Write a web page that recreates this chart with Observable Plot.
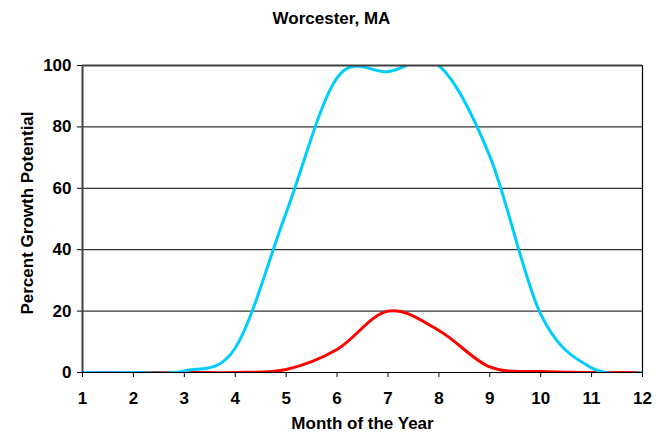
<!DOCTYPE html>
<html>
<head>
<meta charset="utf-8">
<script src="https://cdn.jsdelivr.net/npm/d3@7"></script>
<script src="https://cdn.jsdelivr.net/npm/@observablehq/plot@0.6"></script>
<style>
  html, body { margin: 0; padding: 0; background: #fff; }
  #title { width: 663px; height: 40px; line-height: 38px; text-align: center;
    font-family: "Liberation Sans", Arial, sans-serif; font-weight: bold; font-size: 17px; color: #000; }
  svg { display: block; }
</style>
</head>
<body>
<div id="title">Worcester, MA</div>
<div id="chart"></div>
<script>
const months = [1, 2, 3, 4, 5, 6, 7, 8, 9, 10, 11, 12];
const bluePotential = [0, 0, 0.5, 8, 52, 96, 98, 100, 70.5, 19, 1.5, 0];
const redPotential = [0, 0, 0, 0, 1, 7.5, 20, 13.7, 1.8, 0.3, 0, 0];
const yTicks = [0, 20, 40, 60, 80, 100];
const xLabel = "Month of the Year";
const yLabel = "Percent Growth Potential";

const blueData = months.map((m, i) => ({month: m, value: bluePotential[i]}));
const redData = months.map((m, i) => ({month: m, value: redPotential[i]}));

const font = "Liberation Sans, Arial, sans-serif";

const chart = Plot.plot({
  width: 663,
  height: 395,
  marginLeft: 82,
  marginRight: 21,
  marginTop: 25,
  marginBottom: 63,
  style: {fontFamily: font, fontWeight: "bold", fontSize: "17px", color: "#000", background: "#fff"},
  x: {domain: [1, 12]},
  y: {domain: [0, 100]},
  marks: [
    Plot.ruleY([20, 40, 60, 80], {stroke: "#000", strokeWidth: 1}),
    Plot.ruleY([0], {stroke: "#000", strokeWidth: 1}),
    Plot.ruleX([12], {stroke: "#000", strokeWidth: 1.2}),
    Plot.axisX({ticks: months, tickSize: 5, tickPadding: 14, tickFormat: d => String(d), label: null, fontSize: 17, stroke: "#000"}),
    Plot.axisY({ticks: yTicks, tickSize: 5, tickPadding: 6, label: null, fontSize: 17, stroke: "#000"}),
    Plot.line(redData, {x: "month", y: "value", stroke: "#ff0000", strokeWidth: 3, curve: "cardinal", clip: true}),
    Plot.line(blueData, {x: "month", y: "value", stroke: "#00ccff", strokeWidth: 3, curve: "cardinal", clip: true}),
    Plot.ruleY([100], {stroke: "#404040", strokeWidth: 2}),
    Plot.ruleX([1], {stroke: "#404040", strokeWidth: 2}),
    Plot.text([xLabel], {frameAnchor: "bottom", dy: 51, lineAnchor: "middle", textAnchor: "middle", fontSize: 17, fontWeight: "bold", fill: "#000"}),
    Plot.text([yLabel], {frameAnchor: "left", dx: -55, dy: -6, rotate: -90, lineAnchor: "middle", textAnchor: "middle", fontSize: 17, fontWeight: "bold", fill: "#000"})
  ]
});
document.getElementById("chart").appendChild(chart);
</script>
</body>
</html>
